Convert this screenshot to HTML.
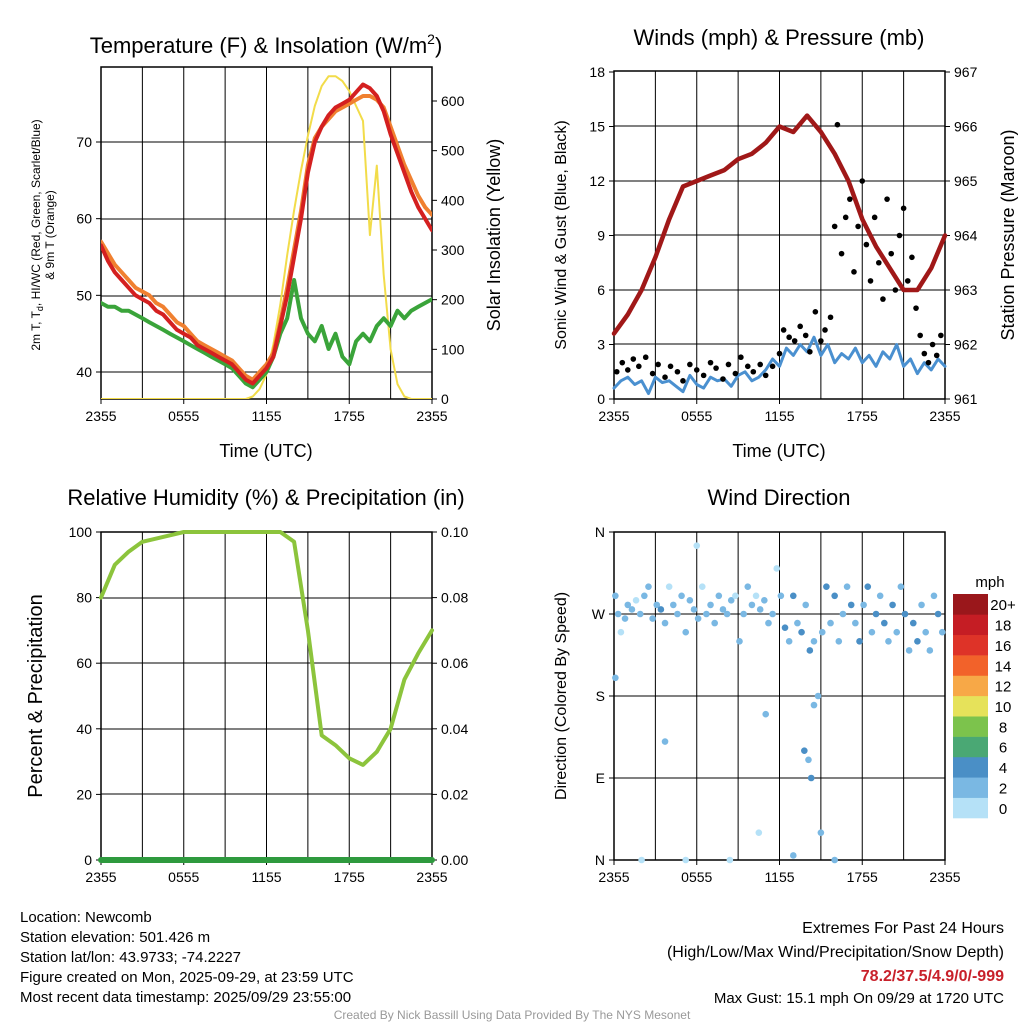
<!DOCTYPE html>
<html><head><meta charset="utf-8"><style>
html,body{margin:0;padding:0;background:#fff;}
svg{display:block;font-family:"Liberation Sans",sans-serif;}
</style></head><body>
<svg id="c" width="1024" height="1024" viewBox="0 0 1024 1024">
<g font-size="22" text-anchor="middle">
<text x="266" y="53">Temperature (F) &amp; Insolation (W/m<tspan font-size="14" dy="-9">2</tspan><tspan dy="9">)</tspan></text>
<text x="779" y="45">Winds (mph) &amp; Pressure (mb)</text>
<text x="266" y="505">Relative Humidity (%) &amp; Precipitation (in)</text>
<text x="779" y="505">Wind Direction</text>
</g>
<g font-size="18" text-anchor="middle">
<text x="266" y="457">Time (UTC)</text>
<text x="779" y="457">Time (UTC)</text>
<text transform="translate(500,235) rotate(-90)">Solar Insolation (Yellow)</text>
<text transform="translate(566,235) rotate(-90)" font-size="16">Sonic Wind &amp; Gust (Blue, Black)</text>
<text transform="translate(1014,235) rotate(-90)">Station Pressure (Maroon)</text>
<text transform="translate(42,696) rotate(-90)" font-size="20">Percent &amp; Precipitation</text>
<text transform="translate(566,696) rotate(-90)" font-size="16">Direction (Colored By Speed)</text>
</g>
<g font-size="12" text-anchor="middle">
<text transform="translate(40,235) rotate(-90)">2m T, T<tspan font-size="9" dy="3">d</tspan><tspan dy="-3">, HI/WC (Red, Green, Scarlet/Blue)</tspan></text>
<text transform="translate(54,235) rotate(-90)">&amp; 9m T (Orange)</text>
</g>
<g font-size="15">
<text x="20" y="922">Location: Newcomb</text>
<text x="20" y="942">Station elevation: 501.426 m</text>
<text x="20" y="962">Station lat/lon: 43.9733; -74.2227</text>
<text x="20" y="982">Figure created on Mon, 2025-09-29, at 23:59 UTC</text>
<text x="20" y="1002">Most recent data timestamp: 2025/09/29 23:55:00</text>
</g>
<g font-size="16" text-anchor="end">
<text x="1004" y="933">Extremes For Past 24 Hours</text>
<text x="1004" y="957">(High/Low/Max Wind/Precipitation/Snow Depth)</text>
<text x="1004" y="981" fill="#c8202a" font-weight="bold">78.2/37.5/4.9/0/-999</text>
<text x="1004" y="1003" font-size="15">Max Gust: 15.1 mph On 09/29 at 1720 UTC</text>
</g>
<text x="512" y="1019" font-size="12" fill="#999" text-anchor="middle">Created By Nick Bassill Using Data Provided By The NYS Mesonet</text>
</svg>
<script>
// ---- data (hours since 2355 UTC, 0..24) ----
const halfHours = Array.from({length:49},(_, i)=>i*0.5);
const tempRed = [56.5,54.5,53,52,51,50,49.5,49,48,47.5,46.5,45.5,45,44.5,43.5,43,42.5,42,41.5,41,40,39,38.5,39.5,40.5,42,46,50,55,60,66,70,72,73.5,74.5,75,75.5,76.5,77.5,77,76,74,71,68.5,66,63.5,61.5,60,58.5];
const tempOrange = [57,55.5,54,53,52,51,50.5,50,49,48.5,47.5,46.5,46,45,44,43.5,43,42.5,42,41.5,40.5,39.5,39,40,41,42.5,46.5,51,56,61,67,70.5,72,73,74,74.5,75,75.5,76,76,75.5,74.5,72,69.5,67,65,63,61.5,60.5];
const tempGreen = [49,48.5,48.5,48,48,47.5,47,46.5,46,45.5,45,44.5,44,43.5,43,42.5,42,41.5,41,40.5,39.5,38.5,38,39,40,42,45,47,52,47,45,44,46,43,45,42,41,44,45,44,46,47,46,48,47,48,48.5,49,49.5];
const solar = [0,0,0,0,0,0,0,0,0,0,0,0,0,0,0,0,0,0,0,0,0,0,5,20,50,110,190,290,380,460,530,590,630,650,650,640,620,590,560,330,470,250,100,30,5,0,0,0,0];
const hours = Array.from({length:25},(_, i)=>i);
const pressure = [962.2,962.55,963.0,963.6,964.3,964.9,965.0,965.1,965.2,965.4,965.5,965.7,966.0,965.9,966.2,965.9,965.5,965.0,964.3,963.8,963.4,963.0,963.0,963.4,964.0];
const sonicWind = [0.6,1.0,1.2,0.8,1.0,0.3,1.2,0.9,1.0,0.7,0.4,1.3,0.8,0.6,1.2,1.0,1.1,0.7,1.3,1.5,1.0,1.2,1.6,2.2,1.8,2.8,2.4,3.0,2.6,3.4,2.4,3.0,2.0,2.5,2.2,2.8,2.0,2.4,1.8,2.6,2.2,3.0,1.8,2.2,1.4,2.0,1.6,2.2,1.8];
const gustTimes = [0.2,0.6,1.0,1.4,1.8,2.3,2.8,3.2,3.7,4.1,4.6,5.0,5.5,6.0,6.5,7.0,7.4,7.9,8.3,8.8,9.2,9.7,10.1,10.6,11.0,11.5,12.0,12.3,12.7,13.1,13.5,13.9,14.2,14.6,15.0,15.3,15.7,16.0,16.2,16.5,16.8,17.1,17.4,17.7,18.0,18.3,18.6,18.9,19.2,19.5,19.8,20.1,20.4,20.7,21.0,21.3,21.6,21.9,22.2,22.5,22.8,23.1,23.4,23.7];
const gustValues = [1.5,2.0,1.6,2.2,1.8,2.3,1.4,1.9,1.2,1.8,1.5,1.0,1.9,1.6,1.3,2.0,1.7,1.1,1.9,1.4,2.3,1.8,1.5,1.9,1.3,1.8,2.5,3.8,3.4,3.2,4.0,3.5,2.6,4.8,3.2,3.8,4.5,9.5,15.1,8.0,10.0,11.0,7.0,9.5,12.0,8.5,6.5,10.0,7.5,5.5,11.0,8.0,6.0,9.0,10.5,6.5,7.8,5.0,3.5,2.5,2.0,3.0,2.4,3.5];
const rh = [80,90,94,97,98,99,100,100,100,100,100,100,100,100,97,70,38,35,31,29,33,40,55,63,70];
const precip = [0,0,0,0,0,0,0,0,0,0,0,0,0,0,0,0,0,0,0,0,0,0,0,0,0];
const dirTimes = [0.1,0.3,0.5,0.8,1.0,1.3,1.6,1.9,2.2,2.5,2.8,3.1,3.4,3.7,4.0,4.3,4.6,4.9,5.2,5.5,5.8,6.1,6.4,6.7,7.0,7.3,7.6,7.9,8.2,8.5,8.8,9.1,9.4,9.7,10.0,10.3,10.6,10.9,11.2,11.5,11.8,12.1,12.4,12.7,13.0,13.3,13.6,13.9,14.2,14.5,14.8,15.1,15.4,15.7,16.0,16.3,16.6,16.9,17.2,17.5,17.8,18.1,18.4,18.7,19.0,19.3,19.6,19.9,20.2,20.5,20.8,21.1,21.4,21.7,22.0,22.3,22.6,22.9,23.2,23.5,23.8,0.1,2.0,3.7,5.2,6.0,8.4,10.5,11.0,13.0,13.8,14.1,14.3,14.5,15.0,16.0];
const dirValues = [290,270,250,265,280,275,285,270,290,300,265,280,275,260,300,280,270,290,250,285,275,265,300,270,280,260,290,275,270,285,290,240,270,300,280,290,275,285,260,270,320,290,255,240,290,260,250,280,230,240,180,250,300,260,290,240,270,300,280,260,240,280,300,250,270,290,260,240,280,250,300,270,230,260,240,280,250,230,290,270,250,200,0,130,0,345,0,30,160,5,120,110,90,170,30,0];
const dirSpeeds = [1,1,0,1,1,1,0,1,1,1,1,1,2,1,0,1,1,1,1,1,1,1,0,1,1,1,1,1,1,1,0,1,1,1,1,0,1,1,1,1,0,1,2,1,2,1,2,1,2,1,1,1,2,1,2,1,1,1,2,1,2,1,2,1,2,1,2,1,2,1,1,2,1,2,2,1,1,1,1,2,1,1,0,1,0,0,0,0,1,1,2,1,2,1,1,1];
const cbLabels = ["0","2","4","6","8","10","12","14","16","18","20+"];
const cbColors = ["#b5e1f7","#7ab8e3","#4a8fc6","#4aa874","#7cc34c","#e6e25a","#f7a847","#f2622a","#de3328","#c51d24","#9a171b"];

const NS='http://www.w3.org/2000/svg';
const svg=document.getElementById('c');
function mk(tag,attrs,parent){const e=document.createElementNS(NS,tag);for(const k in attrs)e.setAttribute(k,attrs[k]);(parent||svg).appendChild(e);return e;}
function txt(x,y,s,anchor,parent,size){const t=mk('text',{x:x,y:y,'text-anchor':anchor,'font-size':size||15},parent);t.textContent=s;return t;}
function scale(d0,d1,r0,r1){return v=>r0+(v-d0)*(r1-r0)/(d1-d0);}
function path(xs,ys,fx,fy,color,w,parent,name){let d='';for(let i=0;i<xs.length;i++)d+=(i?'L':'M')+fx(xs[i]).toFixed(1)+','+fy(ys[i]).toFixed(1);const p=mk('path',{d:d,fill:'none',stroke:color,'stroke-width':w,'stroke-linejoin':'round','stroke-linecap':'round'},parent);


return p;}
const xTicks=[0,6,12,18,24],xLabels=['2355','0555','1155','1755','2355'];
function frame(x0,y0,x1,y1,name,hTicks){
 const g=mk('g',{});
 
 
 const fx=scale(0,24,x0,x1);
 for(let h=3;h<24;h+=3)mk('line',{x1:fx(h),x2:fx(h),y1:y0,y2:y1,stroke:'#000','stroke-width':1},g);
 hTicks.forEach(y=>mk('line',{x1:x0,x2:x1,y1:y,y2:y,stroke:'#000','stroke-width':1},g));
 mk('rect',{x:x0,y:y0,width:x1-x0,height:y1-y0,fill:'none',stroke:'#000','stroke-width':1.5},g);
 const ax=mk('g',{},g);
 
 
 xTicks.forEach((h,i)=>{mk('line',{x1:fx(h),x2:fx(h),y1:y1,y2:y1+5,stroke:'#000'},ax);txt(fx(h),y1+22,xLabels[i],'middle',ax,14);});
 return {g:g,fx:fx};
}
function yAxis(ticks,labels,fy,x,side,g,name){const a=mk('g',{},g);
 
 
 ticks.forEach((v,i)=>{const y=fy(v);mk('line',{x1:x,x2:x+(side<0?-5:5),y1:y,y2:y,stroke:'#000'},a);txt(x+(side<0?-9:9),y+5,labels[i],side<0?'end':'start',a,14);});}

// Panel 1
(function(){const x0=101,y0=67,x1=432,y1=399;
 const fT=scale(40,70,372,142), fS=scale(0,600,399,101);
 const F=frame(x0,y0,x1,y1,'temperature-panel',[142,219,296,372]);
 yAxis([40,50,60,70],['40','50','60','70'],fT,x0,-1,F.g,'temp-y-axis');
 yAxis([0,100,200,300,400,500,600],['0','100','200','300','400','500','600'],fS,x1,1,F.g,'solar-y-axis');
 const cl=mk('clipPath',{id:'cp1'});mk('rect',{x:x0,y:y0,width:x1-x0,height:y1-y0},cl);
 const s=mk('g',{'clip-path':'url(#cp1)'},F.g);
 path(halfHours,solar,F.fx,fS,'#f2dc4a',2,s,'solar-line');
 path(halfHours,tempOrange,F.fx,fT,'#f08030',4,s,'9m-temp-line');
 path(halfHours,tempGreen,F.fx,fT,'#3aa43a',4,s,'dewpoint-line');
 path(halfHours,tempRed,F.fx,fT,'#d42020',4,s,'2m-temp-line');
})();
// Panel 2
(function(){const x0=614,y0=71,x1=945,y1=399;
 const fW=scale(0,18,399,72), fP=scale(961,967,399,72);
 const F=frame(x0,y0,x1,y1,'winds-panel',[126,181,235,290,344]);
 yAxis([0,3,6,9,12,15,18],['0','3','6','9','12','15','18'],fW,x0,-1,F.g,'wind-y-axis');
 yAxis([961,962,963,964,965,966,967],['961','962','963','964','965','966','967'],fP,x1,1,F.g,'pressure-y-axis');
 path(halfHours,sonicWind,F.fx,fW,'#4a90d0',3,F.g,'sonic-wind-line');
 const gg=mk('g',{},F.g);
 
 
 gustTimes.forEach((t,i)=>{const c=mk('circle',{cx:F.fx(t),cy:fW(gustValues[i]),r:2.8,fill:'#000'},gg);
  
  });
 path(hours,pressure,F.fx,fP,'#a01818',4.5,F.g,'pressure-line');
})();
// Panel 3
(function(){const x0=101,y0=532,x1=432,y1=860;
 const fR=scale(0,100,860,532), fPr=scale(0,0.1,860,532);
 const F=frame(x0,y0,x1,y1,'humidity-panel',[598,663,729,794]);
 yAxis([0,20,40,60,80,100],['0','20','40','60','80','100'],fR,x0,-1,F.g,'rh-y-axis');
 yAxis([0,0.02,0.04,0.06,0.08,0.1],['0.00','0.02','0.04','0.06','0.08','0.10'],fPr,x1,1,F.g,'precip-y-axis');
 path(hours,rh,F.fx,fR,'#8cc43c',4,F.g,'rh-line');
 path(hours,precip,F.fx,fPr,'#2e9a3e',6,F.g,'precip-line');
})();
// Panel 4
(function(){const x0=614,y0=532,x1=945,y1=860;
 const fD=scale(0,360,860,532);
 const F=frame(x0,y0,x1,y1,'wind-direction-panel',[614,696,778]);
 yAxis([0,90,180,270,360],['N','E','S','W','N'],fD,x0,-1,F.g,'direction-y-axis');
 const pg=mk('g',{},F.g);
 
 
 dirTimes.forEach((t,i)=>{const c=mk('circle',{cx:F.fx(t),cy:fD(dirValues[i]),r:3.3,fill:cbColors[dirSpeeds[i]]},pg);
  
  });
 const cb=mk('g',{});
 
 
 txt(990,587,'mph','middle',cb,15);
 const bh=224/11;
 cbColors.forEach((c,i)=>{const y=818-(i+1)*bh;mk('rect',{x:953,y:y,width:35,height:bh+0.3,fill:c},cb);txt(1003,y+bh/2+6,cbLabels[i],'middle',cb,15);});
})();
</script>
</body></html>
